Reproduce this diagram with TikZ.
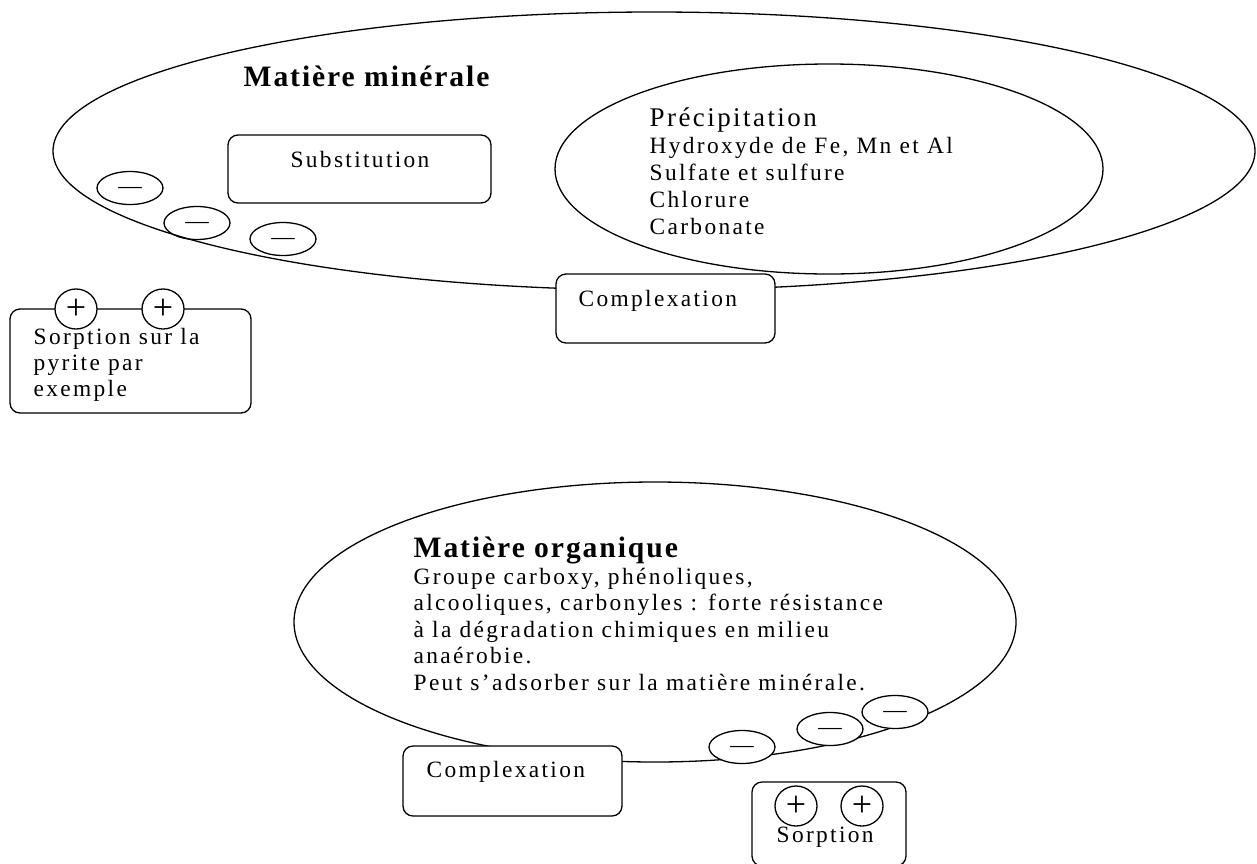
\documentclass[tikz,border=0pt]{standalone}
\usepackage{fontspec}
\setmainfont{Liberation Serif}
\usetikzlibrary{shapes.geometric}

\begin{document}
\begin{tikzpicture}[x=.5pt,y=-.5pt,line width=.65pt,
		txt/.style={inner sep=0pt,align=left,anchor=base west,font=\fontsize{11.7}{13.5}\selectfont\addfontfeature{LetterSpace=10}},
		titre/.style={inner sep=0pt,anchor=base west,font=\fontsize{14.8}{17}\selectfont\bfseries\addfontfeature{LetterSpace=6.5}},
		boite/.style={draw,fill=white,rounded corners=5pt},
		moins/.style={draw,ellipse,inner sep=0pt,minimum width=33pt,minimum height=16.5pt,text height=5.6pt,text depth=0pt,font=\fontsize{11.7}{12}\selectfont},
		plus/.style={draw,fill=white,ellipse,inner sep=0pt,minimum width=21pt,minimum height=20pt,font=\fontsize{18}{18}\selectfont}]
	\useasboundingbox(0,0)rectangle(1257,863);
	% matiere minerale (base of a block = its last line)
	\draw(654,151)ellipse[x radius=601,y radius=139];
	\draw(829,169)ellipse[x radius=274,y radius=105];
	\node[titre](mm)at(243,86){Matière minérale};
	\node[txt,font=\fontsize{13.5}{15}\selectfont\addfontfeature{LetterSpace=9}](prec)at(649,126){Précipitation};
	\node[txt](precl)at(649,234){Hydroxyde de Fe, Mn et Al\\Sulfate et sulfure\\Chlorure\\Carbonate};
	\draw[boite](228,135)rectangle(491,203);
	\node[txt,anchor=base](subst)at(360,167){Substitution};
	\node[moins](m1)at(130,188){—};
	\node[moins](m2)at(197,223){—};
	\node[moins](m3)at(283,239){—};
	\draw[boite](556,274)rectangle(775,343);
	\node[txt](cplx1)at(578,306){Complexation};
	\draw[boite](10,309)rectangle(251,413);
	\node[plus](p1)at(76,309){+};
	\node[plus](p2)at(163,309){+};
	\node[txt,font=\fontsize{11.7}{13}\selectfont\addfontfeature{LetterSpace=10}](pyr)at(33,396){Sorption sur la\\pyrite par\\exemple};
	% matiere organique
	\draw(655,622)ellipse[x radius=361,y radius=140];
	\node[titre](mo)at(413,557){Matière organique};
	\node[txt,font=\fontsize{11.7}{13.25}\selectfont\addfontfeature{LetterSpace=10}](mol)at(413,690){Groupe carboxy, phénoliques,\\alcooliques, carbonyles : forte résistance\\à la dégradation chimiques en milieu\\anaérobie.\\Peut s’adsorber sur la matière minérale.};
	\draw[boite](403,746)rectangle(622,816);
	\node[txt](cplx2)at(426,777){Complexation};
	\node[moins,fill=white](m4)at(742,747){—};
	\node[moins,fill=white](m5)at(830,729){—};
	\node[moins,fill=white](m6)at(895,712){—};
	\draw[boite](752,782)rectangle(906,866);
	\node[plus](p3)at(796,806){+};
	\node[plus](p4)at(862,806){+};
	\node[txt](sorp)at(776,842){Sorption};
\end{tikzpicture}
\end{document}
